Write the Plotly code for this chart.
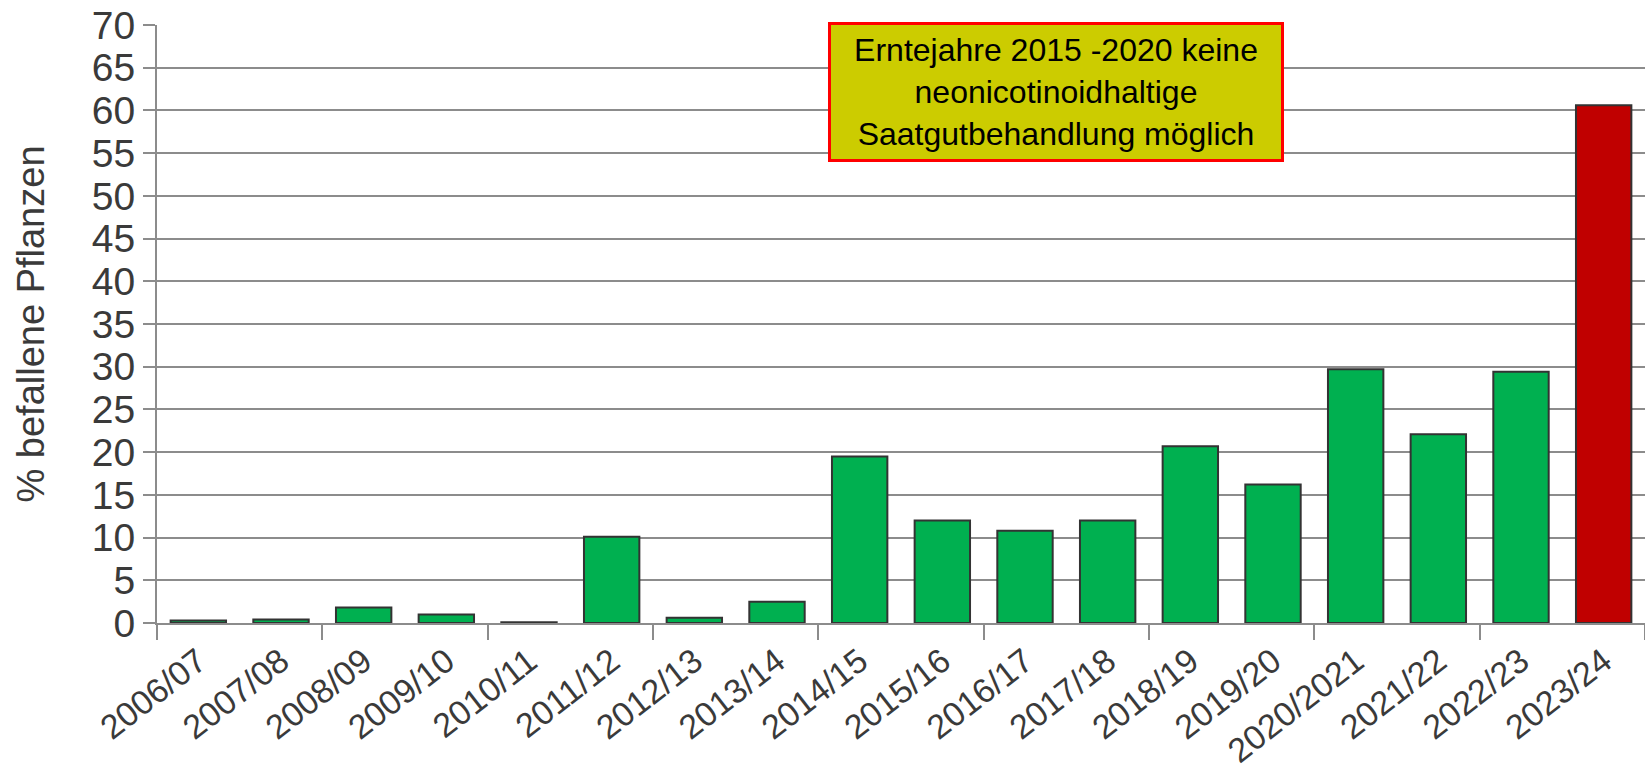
import plotly.graph_objects as go
import numpy as np

categories = ["2006/07", "2007/08", "2008/09", "2009/10", "2010/11", "2011/12",
              "2012/13", "2013/14", "2014/15", "2015/16", "2016/17", "2017/18",
              "2018/19", "2019/20", "2020/2021", "2021/22", "2022/23", "2023/24"]
values = [0.3, 0.4, 1.8, 1.0, 0.1, 10.1, 0.6, 2.5, 19.5, 12.0, 10.8, 12.0,
          20.7, 16.2, 29.7, 22.1, 29.4, 60.6]
bar_colors = ["#00B050"] * 17 + ["#C00000"]
y_ticks = list(range(0, 75, 5))
annotation_text = "Erntejahre 2015 -2020 keine<br>neonicotinoidhaltige<br>Saatgutbehandlung möglich"

FONT = "Liberation Sans, Arial, sans-serif"
TXT = "#3a3a3a"
GRID = "#8c8c8c"

fig = go.Figure()
fig.add_trace(go.Bar(
    x=categories, y=values,
    marker=dict(color=bar_colors, line=dict(color="#333333", width=2)),
    showlegend=False,
))
# invisible helper trace for boundary ticks on overlay axis
fig.add_trace(go.Scatter(x=[-0.5, len(categories) - 0.5], y=[0, 0], xaxis="x2",
                         mode="lines", line=dict(width=0), showlegend=False,
                         hoverinfo="skip"))

n = len(categories)
fig.update_layout(
    width=1645, height=772,
    margin=dict(l=157, r=0, t=25, b=149),
    paper_bgcolor="white", plot_bgcolor="white",
    bargap=0.33,
    font=dict(family=FONT, color=TXT),
    xaxis=dict(
        type="category", tickangle=-38, automargin=False,
        tickfont=dict(size=34, color=TXT, family=FONT),
        ticklabelstandoff=3, ticklabeloverflow="allow",
        showline=True, linecolor=GRID, linewidth=2,
        ticks="", showgrid=False,
    ),
    xaxis2=dict(
        overlaying="x", range=[-0.5, n - 0.5], showticklabels=False,
        tickvals=list(np.arange(-0.5, n, 2.0)), ticks="outside", ticklen=16,
        tickwidth=2, tickcolor=GRID, showgrid=False, showline=False,
        zeroline=False, side="bottom", anchor="y", automargin=False,
    ),
    yaxis=dict(
        range=[0, 70], tickvals=y_ticks, automargin=False,
        tickfont=dict(size=39, color=TXT, family=FONT),
        ticklabeloverflow="allow",
        showgrid=True, gridcolor=GRID, gridwidth=2,
        showline=True, linecolor=GRID, linewidth=2,
        ticks="outside", ticklen=12, tickwidth=2, tickcolor=GRID,
        zeroline=False,
        title=dict(text="% befallene Pflanzen", font=dict(size=38, color=TXT, family=FONT), standoff=36),
    ),
    annotations=[dict(
        text=annotation_text, xref="paper", yref="paper",
        x=0.604, y=0.888, xanchor="center", yanchor="middle",
        showarrow=False, align="center",
        font=dict(size=32, color="#000000", family=FONT),
        bgcolor="#CCCC00", bordercolor="#FF0000", borderwidth=3,
        width=448, height=132,
    )],
)

fig.write_html(
    "out.html",
    config={"displayModeBar": False},
    post_script="document.body.style.margin='0';document.body.style.padding='0';document.body.style.overflow='hidden';",
)
